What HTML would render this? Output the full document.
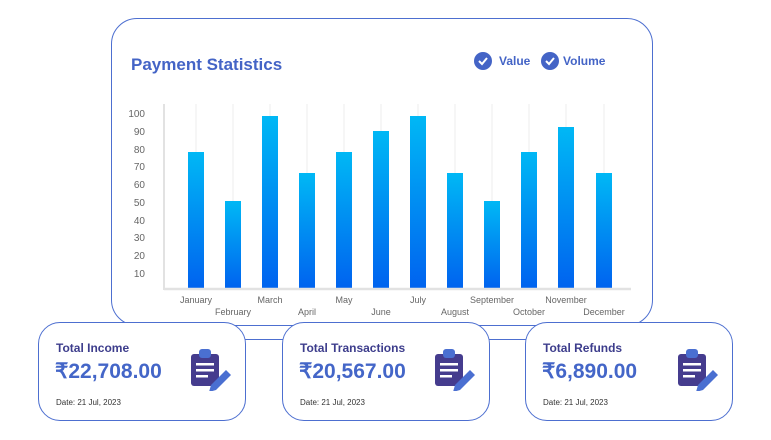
<!DOCTYPE html>
<html><head><style>
body{margin:0;width:771px;height:440px;background:#fff;font-family:"Liberation Sans",sans-serif;position:relative;overflow:hidden}
.main{position:absolute;left:111px;top:18px;width:542px;height:308px;border:1.3px solid #4d6fd0;border-radius:26px;box-sizing:border-box}
.card{position:absolute;top:322px;width:208px;height:99px;border:1.3px solid #4d6fd0;border-radius:22px;background:#fff;box-sizing:border-box}
.card .t{position:absolute;left:17px;top:18px;font-size:12px;font-weight:bold;color:#3d3d8c}
.card .v{position:absolute;left:16px;top:36px;font-size:21px;font-weight:bold;color:#4466c8}
.card .d{position:absolute;left:17px;top:75px;font-size:8px;color:#333}
.card svg{position:absolute;left:150px;top:24px}
.ln{position:absolute;top:339px;height:1.3px;background:#4d6fd0}
</style></head><body>
<div class="main"></div>
<svg width="771" height="440" style="position:absolute;left:0;top:0">
<text x="131" y="70" font-size="17" font-weight="bold" fill="#4464c6">Payment Statistics</text>
<circle cx="483" cy="61" r="9" fill="#4464c6"/><path d="M479 61l3 3 5-6" stroke="#fff" stroke-width="2" fill="none"/>
<text x="499" y="65" font-size="12" font-weight="bold" fill="#4464c6">Value</text>
<circle cx="550" cy="61" r="9" fill="#4464c6"/><path d="M546 61l3 3 5-6" stroke="#fff" stroke-width="2" fill="none"/>
<text x="563" y="65" font-size="12" font-weight="bold" fill="#4464c6">Volume</text>
<defs><linearGradient id="g" x1="0" y1="0" x2="0" y2="1"><stop offset="0" stop-color="#00b8f5"/><stop offset="1" stop-color="#0063ef"/></linearGradient></defs>
<g font-size="10" fill="#666" text-anchor="end">
<text x="145" y="117">100</text><text x="145" y="135">90</text><text x="145" y="153">80</text><text x="145" y="170">70</text><text x="145" y="188">60</text><text x="145" y="206">50</text><text x="145" y="224">40</text><text x="145" y="241">30</text><text x="145" y="259">20</text><text x="145" y="277">10</text>
</g>
<line x1="164" y1="104" x2="164" y2="290" stroke="#e2e2e2" stroke-width="2"/>
<g stroke="#ececec" stroke-width="1">
<line x1="196" y1="104" x2="196" y2="288"/><line x1="233" y1="104" x2="233" y2="288"/><line x1="270" y1="104" x2="270" y2="288"/><line x1="307" y1="104" x2="307" y2="288"/><line x1="344" y1="104" x2="344" y2="288"/><line x1="381" y1="104" x2="381" y2="288"/><line x1="418" y1="104" x2="418" y2="288"/><line x1="455" y1="104" x2="455" y2="288"/><line x1="492" y1="104" x2="492" y2="288"/><line x1="529" y1="104" x2="529" y2="288"/><line x1="566" y1="104" x2="566" y2="288"/><line x1="604" y1="104" x2="604" y2="288"/>
</g>
<g fill="url(#g)">
<rect x="188" y="152" width="16" height="136"/><rect x="225" y="201" width="16" height="87"/><rect x="262" y="116" width="16" height="172"/><rect x="299" y="173" width="16" height="115"/><rect x="336" y="152" width="16" height="136"/><rect x="373" y="131" width="16" height="157"/><rect x="410" y="116" width="16" height="172"/><rect x="447" y="173" width="16" height="115"/><rect x="484" y="201" width="16" height="87"/><rect x="521" y="152" width="16" height="136"/><rect x="558" y="127" width="16" height="161"/><rect x="596" y="173" width="16" height="115"/>
</g>
<line x1="164" y1="289" x2="631" y2="289" stroke="#e2e2e2" stroke-width="2.5"/>
<g font-size="9" fill="#666" text-anchor="middle">
<text x="196" y="303">January</text><text x="233" y="315">February</text><text x="270" y="303">March</text><text x="307" y="315">April</text><text x="344" y="303">May</text><text x="381" y="315">June</text><text x="418" y="303">July</text><text x="455" y="315">August</text><text x="492" y="303">September</text><text x="529" y="315">October</text><text x="566" y="303">November</text><text x="604" y="315">December</text>
</g>
</svg>
<div class="ln" style="left:245px;width:38px"></div>
<div class="ln" style="left:488px;width:38px"></div>
<div class="card" style="left:38px"><div class="t">Total Income</div><div class="v">₹22,708.00</div><div class="d">Date: 21 Jul, 2023</div>
<svg width="46" height="44"><rect x="2" y="7" width="28" height="32" rx="3" fill="#453c8e"/><rect x="10" y="2" width="12" height="9" rx="3" fill="#4a6fd1"/><rect x="7" y="16" width="18" height="2.5" fill="#fff"/><rect x="7" y="22" width="18" height="2.5" fill="#fff"/><rect x="7" y="28" width="12" height="2.5" fill="#fff"/><path d="M22 38l15-15 5 5-15 15-7 2z" fill="#4a6fd1"/></svg></div>
<div class="card" style="left:282px"><div class="t">Total Transactions</div><div class="v">₹20,567.00</div><div class="d">Date: 21 Jul, 2023</div>
<svg width="46" height="44"><rect x="2" y="7" width="28" height="32" rx="3" fill="#453c8e"/><rect x="10" y="2" width="12" height="9" rx="3" fill="#4a6fd1"/><rect x="7" y="16" width="18" height="2.5" fill="#fff"/><rect x="7" y="22" width="18" height="2.5" fill="#fff"/><rect x="7" y="28" width="12" height="2.5" fill="#fff"/><path d="M22 38l15-15 5 5-15 15-7 2z" fill="#4a6fd1"/></svg></div>
<div class="card" style="left:525px"><div class="t">Total Refunds</div><div class="v">₹6,890.00</div><div class="d">Date: 21 Jul, 2023</div>
<svg width="46" height="44"><rect x="2" y="7" width="28" height="32" rx="3" fill="#453c8e"/><rect x="10" y="2" width="12" height="9" rx="3" fill="#4a6fd1"/><rect x="7" y="16" width="18" height="2.5" fill="#fff"/><rect x="7" y="22" width="18" height="2.5" fill="#fff"/><rect x="7" y="28" width="12" height="2.5" fill="#fff"/><path d="M22 38l15-15 5 5-15 15-7 2z" fill="#4a6fd1"/></svg></div>
</body></html>
